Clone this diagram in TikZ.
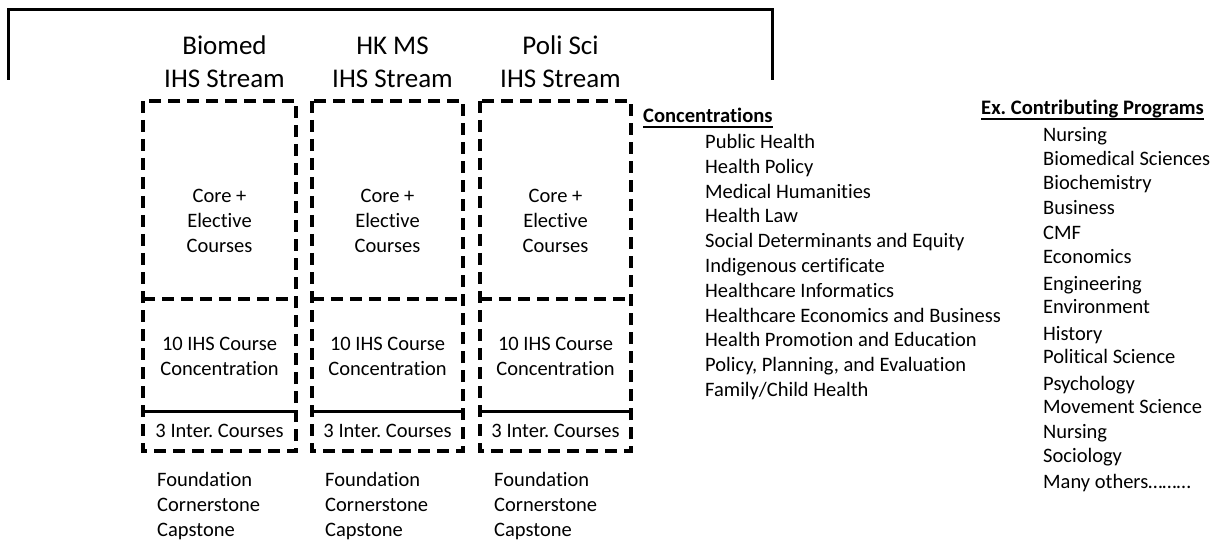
\documentclass[tikz,border=0pt]{standalone}
\usepackage{fontspec}
\setmainfont{Carlito}[RawFeature={-liga}]
\frenchspacing
\begin{document}
\begin{tikzpicture}[x=1pt,y=-1pt,
  txt/.style={inner sep=0pt,font=\fontsize{20.5}{24.8}\selectfont,text=black},
  hdr/.style={inner sep=0pt,font=\fontsize{20.6}{24.8}\selectfont\bfseries,text=black,anchor=base west},
  ttl/.style={inner sep=0pt,font=\fontsize{27}{33}\selectfont,text=black,anchor=base},
  dbox/.style={draw=black,line width=4pt,dash pattern=on 12pt off 7pt},
  bracket/.style={draw=black,line width=3pt}]
\useasboundingbox (0,0) rectangle (1221,540);
% bracket
\coordinate (bl) at (8,80);
\coordinate (btl) at (8,10);
\coordinate (btr) at (772,10);
\coordinate (br) at (772,80);
\draw[bracket] (bl) -- (btl) -- (btr) -- (br);
% columns
\foreach \i/\xl/\xr/\tl/\fx in {1/143/296/Biomed/157, 2/312/463/HK MS/325, 3/480/631/Poli Sci/494}{
  \pgfmathsetmacro{\xc}{(\xl+\xr)/2}
  \node[ttl] (t\i a) at (\xc+5,55) {\tl};
  \node[ttl] (t\i b) at (\xc+5,88) {IHS Stream};
  \draw[dbox] (\xl,101) rectangle (\xr,451);
  \draw[dbox] (\xl,299) -- (\xr,299);
  \draw[draw=black,line width=3pt] (\xl,411) -- (\xr,411);
  \node[txt,anchor=base] (c\i a) at (\xc,203) {Core +};
  \node[txt,anchor=base] (c\i b) at (\xc,228) {Elective};
  \node[txt,anchor=base] (c\i c) at (\xc,253) {Courses};
  \node[txt,anchor=base] (m\i a) at (\xc,350) {10 IHS Course};
  \node[txt,anchor=base] (m\i b) at (\xc,375) {Concentration};
  \node[txt,anchor=base] (i\i) at (\xc,437) {3 Inter. Courses};
  \node[txt,anchor=base west] (f\i a) at (\fx,486) {Foundation};
  \node[txt,anchor=base west] (f\i b) at (\fx,511) {Cornerstone};
  \node[txt,anchor=base west] (f\i c) at (\fx,536) {Capstone};
}
% Concentrations
\node[hdr] (conc) at (643,123) {Concentrations};
\draw[line width=1.2pt] ([yshift=-4pt]conc.base west) -- ([yshift=-4pt]conc.base east);
\foreach \t [count=\k from 0] in {Public Health, Health Policy, Medical Humanities, Health Law, Social Determinants and Equity, Indigenous certificate, Healthcare Informatics, Healthcare Economics and Business, Health Promotion and Education, {Policy, Planning, and Evaluation}, Family/Child Health}{
  \node[txt,anchor=base west] (cl\k) at (705,148.5+24.8*\k) {\t};
}
% Contributing programs
\node[hdr] (prog) at (981,115) {Ex. Contributing Programs};
\draw[line width=1.2pt] ([yshift=-4pt]prog.base west) -- ([yshift=-4pt]prog.base east);
\foreach \t/\y [count=\k] in {Nursing/142, Biomedical Sciences/166, Biochemistry/190, Business/215, CMF/240, Economics/264, Engineering/290, Environment/313, History/340, Political Science/363, Psychology/390, Movement Science/413, Nursing/438, Sociology/462, Many others………/488}{
  \node[txt,anchor=base west] (p\k) at (1043,\y) {\t};
}
\end{tikzpicture}
\end{document}
